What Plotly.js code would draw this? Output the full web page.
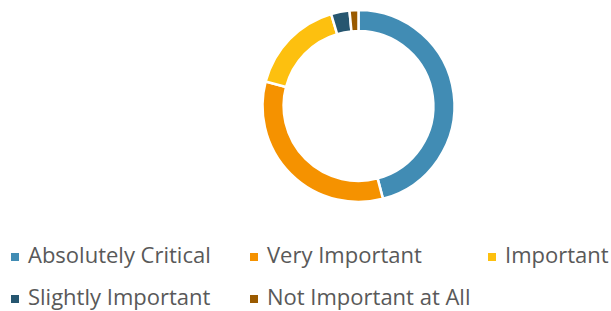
<!DOCTYPE html>
<html><head><meta charset="utf-8">
<script src="https://cdn.plot.ly/plotly-3.0.1.min.js"></script>
<style>html,body{margin:0;padding:0;background:#fff}</style>
</head><body>
<div id="chart" style="width:611px;height:311px"></div>
<script>
var categories = ["Absolutely Critical", "Very Important", "Important", "Slightly Important", "Not Important at All"];
var percents = [45.9, 33.2, 16.3, 3.1, 1.5];
var colors = ["#418CB4", "#F59200", "#FDC00F", "#265670", "#9A5A00"];

var W = 611, H = 311;
var trace = {
  type: "pie",
  labels: categories,
  values: percents,
  hole: 0.78,
  sort: false,
  direction: "clockwise",
  rotation: 0,
  textinfo: "none",
  showlegend: false,
  marker: {colors: colors, line: {color: "#ffffff", width: 2.5}},
  domain: {x: [(358.5 - 96) / W, (358.5 + 96) / W], y: [1 - 202 / H, 1 - 10 / H]}
};

// legend drawn as annotations + square markers (3 columns, wrapping)
var colLeft = [11, 250, 488];
var rowMid = [257, 299];
var shapes = [], annotations = [];
categories.forEach(function (name, i) {
  var c = i % 3, r = Math.floor(i / 3);
  var x0 = colLeft[c], ym = rowMid[r];
  shapes.push({
    type: "rect", xref: "paper", yref: "paper",
    x0: x0 / W, x1: (x0 + 8) / W, y0: 1 - (ym + 4) / H, y1: 1 - (ym - 4) / H,
    fillcolor: colors[i], line: {width: 0}
  });
  annotations.push({
    xref: "paper", yref: "paper", x: (x0 + 15) / W, y: 1 - (ym - 3) / H,
    xanchor: "left", yanchor: "middle", showarrow: false,
    text: name,
    font: {family: "Open Sans, sans-serif", size: 22, color: "#595959"}
  });
});

var layout = {
  width: W, height: H,
  margin: {l: 0, r: 0, t: 0, b: 0},
  paper_bgcolor: "#ffffff",
  showlegend: false,
  shapes: shapes,
  annotations: annotations
};
Plotly.newPlot("chart", [trace], layout, {displayModeBar: false, staticPlot: true});
</script>
</body></html>
